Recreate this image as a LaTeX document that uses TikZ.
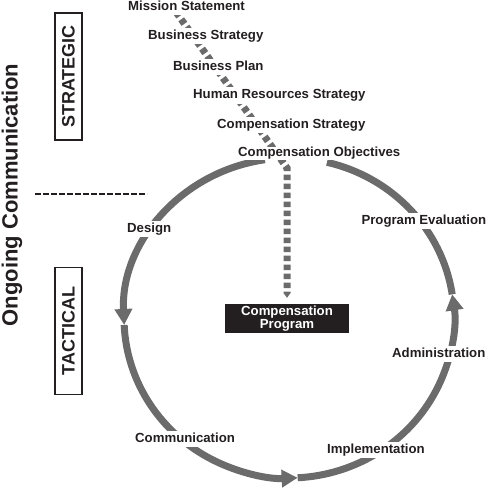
\documentclass[tikz,border=0pt]{standalone}
\usepackage{fontspec}
\setmainfont{Liberation Sans}
\usetikzlibrary{arrows.meta}
\definecolor{ringgray}{HTML}{6B6B6B}
\definecolor{ink}{HTML}{231F20}
\begin{document}
\begin{tikzpicture}[x=1pt,y=-1pt,
  lbl/.style={font=\fontsize{13.2}{14}\selectfont\bfseries, text=ink, fill=white, anchor=west,
              inner xsep=1.5pt, inner ysep=2pt, text height=9.5pt, text depth=2.8pt},
  ring/.style={draw=ringgray, line width=7pt},
  ringtip/.style={-{Triangle[width=17pt,length=16pt]}},
  flow/.style={draw=ringgray, line width=7pt, dash pattern=on 5.5pt off 3.5pt,
               -{Triangle[width=7pt,length=5pt]}},
  sidebox/.style={draw=ink, line width=1.3pt, minimum width=127pt, minimum height=27pt,
                  inner sep=0pt, rotate=90, font=\fontsize{18}{20}\selectfont\bfseries, text=ink},
  progbox/.style={fill=ink, text=white, font=\fontsize{13.2}{13.6}\selectfont\bfseries,
                  align=center, minimum width=124pt, minimum height=29pt, inner sep=0pt}
]
\useasboundingbox (0,0) rectangle (490,489);

% cycle ring
\coordinate (C) at (289,318);
\draw[ring, ringtip] ([shift={(261.6:165 and 160)}]C) arc[start angle=261.6, end angle=177.5, x radius=165, y radius=160];
\draw[ring, ringtip] ([shift={(177.5:165 and 160)}]C) arc[start angle=177.5, end angle=87, x radius=165, y radius=160];
\draw[ring, ringtip] ([shift={(87:165 and 160)}]C) arc[start angle=87, end angle=-8.5, x radius=165, y radius=160];
\draw[ring] ([shift={(-8.5:165 and 160)}]C) arc[start angle=-8.5, end angle=-76.7, x radius=165, y radius=160];

% compensation program box
\node[progbox] (cp) at (287,318.5) {Compensation\\Program};

% strategic flow
\coordinate (d0) at (176,12);
\coordinate (d1) at (287,168);
\draw[flow, shorten >=6pt] (d0) -- (d1) -- (cp);

% strategic labels
\node[lbl] (ms) at (126.5,7) {Mission Statement};
\node[lbl] (bs) at (146.5,36) {Business Strategy};
\node[lbl] (bp) at (171.5,67) {Business Plan};
\node[lbl] (hr) at (191.5,95.5) {Human Resources Strategy};
\node[lbl] (cs) at (215.5,125) {Compensation Strategy};
\node[lbl, inner ysep=0.5pt] (co) at (236.5,153.5) {Compensation Objectives};

% cycle labels
\node[lbl] (de) at (125.5,229) {Design};
\node[lbl] (pe) at (359.8,221) {Program Evaluation};
\node[lbl] (ad) at (390.5,354) {Administration};
\node[lbl] (cm) at (133.5,439) {Communication};
\node[lbl] (im) at (325.5,450) {Implementation};

% side annotations
\node[font=\fontsize{22}{24}\selectfont\bfseries, rotate=90, text=ink] (oc) at (12,195) {Ongoing Communication};
\node[sidebox] (st) at (68.5,76.5) {STRATEGIC};
\node[sidebox] (ta) at (68.5,331) {TACTICAL};
\coordinate (dl) at (35,194);
\coordinate (dr) at (147,194);
\draw[ink, line width=2pt, dash pattern=on 5.5pt off 2.5pt] (dl) -- (dr);
\end{tikzpicture}
\end{document}
